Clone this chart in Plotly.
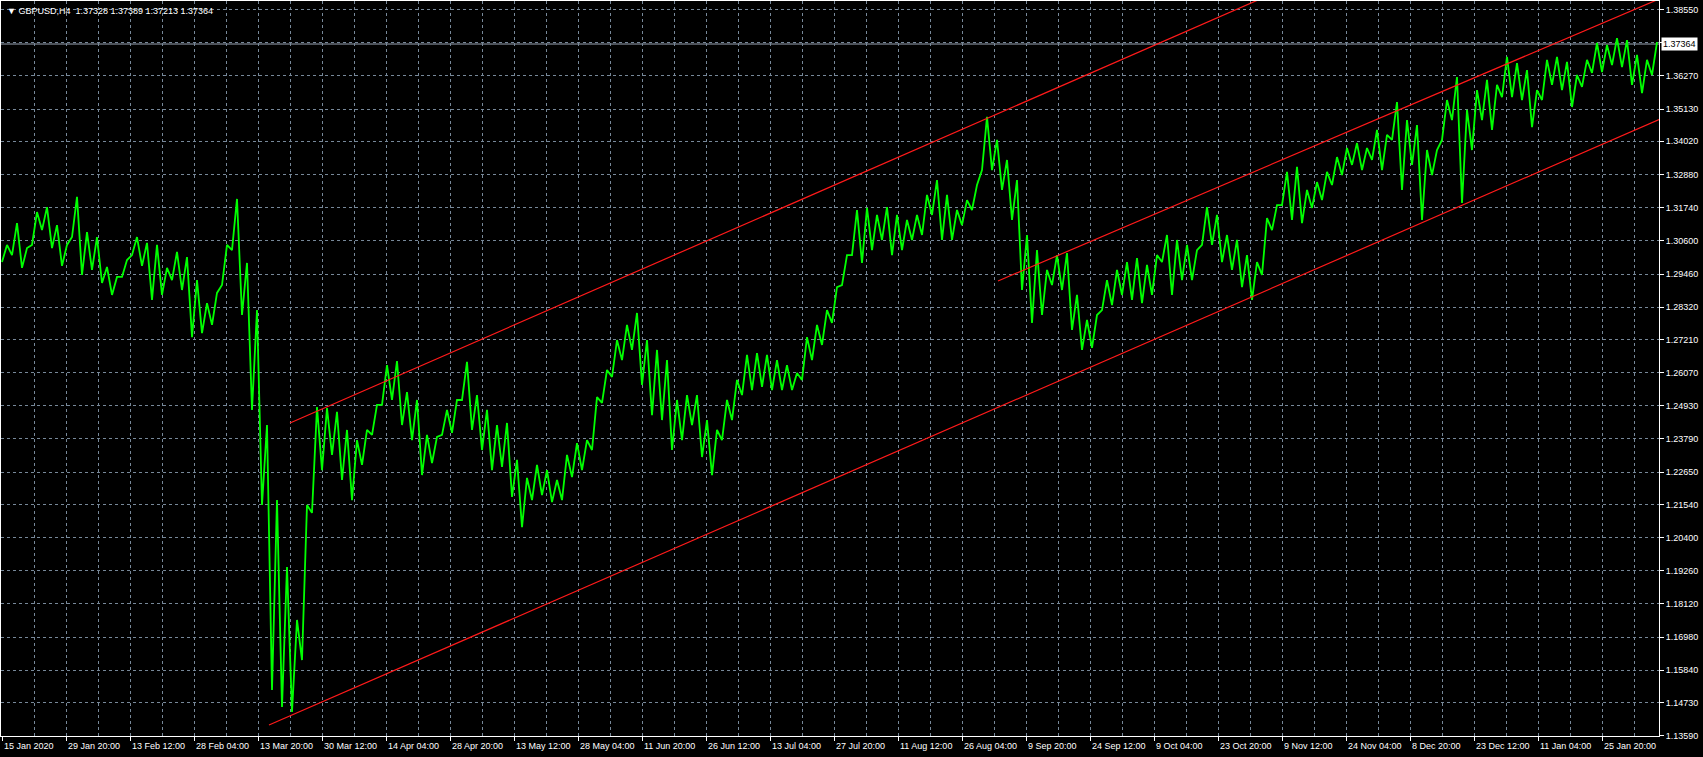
import plotly.graph_objects as go

# ---------------- data ----------------
symbol_title = "GBPUSD,H4"
last_ohlc = ["1.37328", "1.37389", "1.37213", "1.37364"]
bid_price = 1.37364

# high / low of consecutive 10-bar windows (H4 bars)
window_highs = [
    1.3046, 1.3121, 1.3035, 1.3159, 1.3176, 1.3114, 1.3046, 1.3211, 1.3090, 1.3073,
    1.2970, 1.2936, 1.2994, 1.3073, 1.3053, 1.3046, 1.2967, 1.3022, 1.3004, 1.2925,
    1.2846, 1.2881, 1.3046, 1.3204, 1.2984, 1.2822, 1.2427, 1.2169, 1.1939, 1.1757,
    1.2152, 1.2489, 1.2485, 1.2472, 1.2410, 1.2375, 1.2410, 1.2496, 1.2633, 1.2647,
    1.2540, 1.2513, 1.2393, 1.2386, 1.2479, 1.2513, 1.2644, 1.2530, 1.2479, 1.2427,
    1.2434, 1.2307, 1.2245, 1.2290, 1.2272, 1.2238, 1.2324, 1.2365, 1.2375, 1.2523,
    1.2616, 1.2719, 1.2771, 1.2812, 1.2719, 1.2685, 1.2650, 1.2513, 1.2530, 1.2530,
    1.2444, 1.2410, 1.2513, 1.2582, 1.2668, 1.2674, 1.2668, 1.2650, 1.2633, 1.2606,
    1.2729, 1.2771, 1.2822, 1.2901, 1.3011, 1.3166, 1.3173, 1.3149, 1.3176, 1.3149,
    1.3132, 1.3149, 1.3218, 1.3269, 1.3218, 1.3166, 1.3200, 1.3252, 1.3486, 1.3407,
    1.3338, 1.3269, 1.3080, 1.3028, 1.2960, 1.3011, 1.3018, 1.2874, 1.2788, 1.2805,
    1.2925, 1.2960, 1.2987, 1.3001, 1.2977, 1.3011, 1.3080, 1.3063, 1.3046, 1.3028,
    1.3176, 1.3149, 1.3080, 1.3063, 1.3011, 1.2987, 1.3138, 1.3183, 1.3297, 1.3314,
    1.3235, 1.3262, 1.3297, 1.3348, 1.3379, 1.3396, 1.3379, 1.3441, 1.3424, 1.3537,
    1.3475, 1.3458, 1.3372, 1.3372, 1.3544, 1.3623, 1.3510, 1.3578, 1.3613, 1.3596,
    1.3692, 1.3671, 1.3647, 1.3578, 1.3682, 1.3692, 1.3675, 1.3630, 1.3682, 1.3740,
    1.3733, 1.3757, 1.3750, 1.3699, 1.3682, 1.3743,
]
window_lows = [
    1.2987, 1.3011, 1.2967, 1.3046, 1.3097, 1.3035, 1.2974, 1.3073, 1.2943, 1.2960,
    1.2915, 1.2874, 1.2936, 1.3011, 1.2974, 1.2857, 1.2874, 1.2925, 1.2891, 1.2729,
    1.2743, 1.2771, 1.2908, 1.3028, 1.2805, 1.2479, 1.2152, 1.1516, 1.1458, 1.1441,
    1.1619, 1.2125, 1.2272, 1.2324, 1.2238, 1.2169, 1.2290, 1.2393, 1.2496, 1.2513,
    1.2427, 1.2375, 1.2255, 1.2296, 1.2393, 1.2400, 1.2513, 1.2410, 1.2341, 1.2272,
    1.2283, 1.2180, 1.2076, 1.2169, 1.2186, 1.2162, 1.2169, 1.2248, 1.2272, 1.2341,
    1.2503, 1.2592, 1.2650, 1.2685, 1.2565, 1.2461, 1.2444, 1.2341, 1.2375, 1.2427,
    1.2317, 1.2255, 1.2375, 1.2444, 1.2530, 1.2547, 1.2558, 1.2547, 1.2547, 1.2547,
    1.2582, 1.2650, 1.2702, 1.2778, 1.2908, 1.3011, 1.2984, 1.3028, 1.3063, 1.3011,
    1.3028, 1.3063, 1.3080, 1.3149, 1.3063, 1.3063, 1.3114, 1.3166, 1.3303, 1.3303,
    1.3235, 1.3132, 1.2891, 1.2778, 1.2805, 1.2908, 1.2891, 1.2754, 1.2685, 1.2692,
    1.2822, 1.2839, 1.2874, 1.2857, 1.2846, 1.2874, 1.2987, 1.2874, 1.2925, 1.2925,
    1.3046, 1.3046, 1.2987, 1.2960, 1.2901, 1.2857, 1.2943, 1.3097, 1.3183, 1.3132,
    1.3121, 1.3173, 1.3200, 1.3252, 1.3286, 1.3321, 1.3303, 1.3338, 1.3303, 1.3407,
    1.3235, 1.3321, 1.3132, 1.3286, 1.3407, 1.3475, 1.3190, 1.3372, 1.3475, 1.3441,
    1.3554, 1.3554, 1.3544, 1.3451, 1.3544, 1.3596, 1.3578, 1.3520, 1.3589, 1.3637,
    1.3640, 1.3664, 1.3657, 1.3596, 1.3568, 1.3630,
]
BARS_PER_WINDOW = 10
TOTAL_BARS = 1658

date_labels = [
    "15 Jan 2020", "29 Jan 20:00", "13 Feb 12:00", "28 Feb 04:00", "13 Mar 20:00",
    "30 Mar 12:00", "14 Apr 04:00", "28 Apr 20:00", "13 May 12:00", "28 May 04:00",
    "11 Jun 20:00", "26 Jun 12:00", "13 Jul 04:00", "27 Jul 20:00", "11 Aug 12:00",
    "26 Aug 04:00", "9 Sep 20:00", "24 Sep 12:00", "9 Oct 04:00", "23 Oct 20:00",
    "9 Nov 12:00", "24 Nov 04:00", "8 Dec 20:00", "23 Dec 12:00", "11 Jan 04:00",
    "25 Jan 20:00",
]
BARS_PER_LABEL = 64
FIRST_LABEL_BAR = 1

price_ticks = [1.38550, 1.37410, 1.36270, 1.35130, 1.34020, 1.32880, 1.31740, 1.30600,
               1.29460, 1.28320, 1.27210, 1.26070, 1.24930, 1.23790, 1.22650, 1.21540,
               1.20400, 1.19260, 1.18120, 1.16980, 1.15840, 1.14730, 1.13590]
price_tick_text = ["1.38550", "", "1.36270", "1.35130", "1.34020", "1.32880", "1.31740",
                   "1.30600", "1.29460", "1.28320", "1.27210", "1.26070", "1.24930",
                   "1.23790", "1.22650", "1.21540", "1.20400", "1.19260", "1.18120",
                   "1.16980", "1.15840", "1.14730", "1.13590"]
price_range = [1.13581, 1.38843]

# trend / channel lines: anchor bars and prices
channel_lower_bars = [268, 1658]
channel_lower_prices = [1.1396, 1.3477]
channel_upper_bars = [289, 1658]
channel_upper_prices = [1.2434, 1.4490]
short_upper_bars = [997, 1658]
short_upper_prices = [1.2922, 1.3891]

# ---------------- styles ----------------
GRID = "#778899"
FONT = "Liberation Sans"
GREEN = "#00ff00"
RED = "#ff1a1a"

# ---------------- build ----------------
xs, ys = [], []
for i, (hi, lo) in enumerate(zip(window_highs, window_lows)):
    base = i * BARS_PER_WINDOW
    xs += [base + 1, base + 6]
    ys += [lo, hi]

fig = go.Figure()
fig.add_trace(go.Scatter(x=xs, y=ys, mode="lines",
                         line=dict(color=GREEN, width=1.8), hoverinfo="skip"))
for bx, py in [(channel_lower_bars, channel_lower_prices),
               (channel_upper_bars, channel_upper_prices),
               (short_upper_bars, short_upper_prices)]:
    fig.add_trace(go.Scatter(x=bx, y=py, mode="lines",
                             line=dict(color=RED, width=1.2), hoverinfo="skip"))

label_bars = [FIRST_LABEL_BAR + k * BARS_PER_LABEL for k in range(len(date_labels))]

annotations = []
for b, t in zip(label_bars, date_labels):
    annotations.append(dict(x=b, y=0, xref="x", yref="paper", text=t, showarrow=False,
                            xanchor="left", yanchor="top", yshift=-3, xshift=0,
                            font=dict(family=FONT, size=9, color="white")))
annotations.append(dict(x=0, y=1, xref="paper", yref="paper",
                        text="▼ " + symbol_title + "  " + " ".join(last_ohlc),
                        showarrow=False, xanchor="left", yanchor="top", xshift=4, yshift=-3,
                        font=dict(family=FONT, size=9, color="white")))
annotations.append(dict(x=1, y=bid_price, xref="paper", yref="y", text=f"{bid_price:.5f}",
                        showarrow=False, xanchor="left", yanchor="middle", xshift=2,
                        bgcolor="white", borderpad=1,
                        font=dict(family=FONT, size=9, color="black")))

fig.update_layout(
    width=1703, height=757,
    margin=dict(l=1, r=44, t=1, b=21),
    paper_bgcolor="black", plot_bgcolor="black",
    showlegend=False,
    annotations=annotations,
    shapes=[dict(type="line", xref="paper", x0=0, x1=1, yref="y", y0=bid_price, y1=bid_price,
                 line=dict(color="#9aa4b4", width=1), layer="below")],
    xaxis=dict(range=[0, TOTAL_BARS], tickmode="array", tickvals=label_bars,
               showticklabels=False, ticks="outside", ticklen=4, tickcolor="white",
               showgrid=True, gridcolor=GRID, griddash="3px,3px", gridwidth=1,
               minor=dict(tickmode="linear", tick0=FIRST_LABEL_BAR, dtick=BARS_PER_LABEL // 2,
                          showgrid=True, gridcolor=GRID, griddash="3px,3px", ticklen=0),
               showline=True, linecolor="white", linewidth=1, mirror=True,
               zeroline=False, fixedrange=True),
    yaxis=dict(range=price_range, side="right", tickmode="array", tickvals=price_ticks,
               ticktext=price_tick_text, ticks="outside", ticklen=4, tickcolor="white",
               tickfont=dict(family=FONT, size=9, color="white"),
               showgrid=True, gridcolor=GRID, griddash="3px,3px", gridwidth=1,
               showline=True, linecolor="white", linewidth=1, mirror=True,
               zeroline=False, fixedrange=True),
)

fig.write_html("out.html", config={"displayModeBar": False},
               post_script="document.body.style.margin='0';document.body.style.padding='0';"
                           "document.body.style.overflow='hidden';")
